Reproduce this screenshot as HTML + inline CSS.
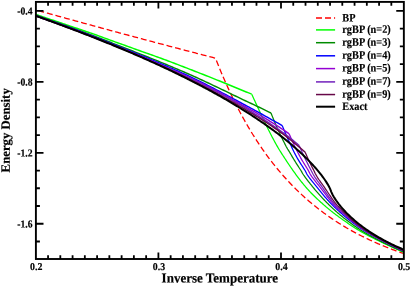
<!DOCTYPE html><html><head><meta charset="utf-8"><style>
html,body{margin:0;padding:0;background:#fff}#w{will-change:transform;position:relative;width:411px;height:286px;overflow:hidden;background:#fff}
</style></head><body><div id="w">
<svg width="411" height="286" viewBox="0 0 411 286" style="position:absolute;left:0;top:0">
<defs><clipPath id="c"><rect x="35.9" y="1.9" width="367.95000000000005" height="257.1"/></clipPath></defs>
<g clip-path="url(#c)" fill="none" stroke-linejoin="round">
<path d="M35.80,9.94 L36.96,10.26 L38.11,10.58 L39.27,10.90 L40.43,11.22 L41.58,11.55 L42.74,11.87 L43.90,12.19 L45.05,12.51 L46.21,12.83 L47.37,13.15 L48.52,13.47 L49.68,13.79 L50.84,14.11 L51.99,14.43 L53.15,14.75 L54.31,15.07 L55.46,15.39 L56.62,15.71 L57.78,16.03 L58.93,16.35 L60.09,16.67 L61.25,16.99 L62.40,17.30 L63.56,17.62 L64.72,17.94 L65.87,18.26 L67.03,18.58 L68.18,18.90 L69.34,19.22 L70.50,19.53 L71.65,19.85 L72.81,20.17 L73.97,20.49 L75.12,20.80 L76.28,21.12 L77.44,21.44 L78.59,21.75 L79.75,22.07 L80.91,22.39 L82.06,22.70 L83.22,23.02 L84.38,23.34 L85.53,23.65 L86.69,23.97 L87.85,24.29 L89.00,24.60 L90.16,24.92 L91.32,25.23 L92.47,25.55 L93.63,25.86 L94.79,26.18 L95.94,26.49 L97.10,26.81 L98.26,27.12 L99.41,27.44 L100.57,27.75 L101.73,28.06 L102.88,28.38 L104.04,28.69 L105.20,29.01 L106.35,29.32 L107.51,29.63 L108.67,29.95 L109.82,30.26 L110.98,30.57 L112.14,30.88 L113.29,31.20 L114.45,31.51 L115.61,31.82 L116.76,32.13 L117.92,32.45 L119.08,32.76 L120.23,33.07 L121.39,33.38 L122.55,33.69 L123.70,34.00 L124.86,34.32 L126.02,34.63 L127.17,34.94 L128.33,35.25 L129.48,35.56 L130.64,35.87 L131.80,36.18 L132.95,36.49 L134.11,36.80 L135.27,37.11 L136.42,37.42 L137.58,37.73 L138.74,38.04 L139.89,38.35 L141.05,38.65 L142.21,38.96 L143.36,39.27 L144.52,39.58 L145.68,39.89 L146.83,40.20 L147.99,40.50 L149.15,40.81 L150.30,41.12 L151.46,41.43 L152.62,41.73 L153.77,42.04 L154.93,42.35 L156.09,42.65 L157.24,42.96 L158.40,43.27 L159.56,43.57 L160.71,43.88 L161.87,44.19 L163.03,44.49 L164.18,44.80 L165.34,45.10 L166.50,45.41 L167.65,45.71 L168.81,46.02 L169.97,46.32 L171.12,46.63 L172.28,46.93 L173.44,47.24 L174.59,47.54 L175.75,47.84 L176.91,48.15 L178.06,48.45 L179.22,48.75 L180.38,49.06 L181.53,49.36 L182.69,49.66 L183.85,49.97 L185.00,50.27 L186.16,50.57 L187.32,50.87 L188.47,51.17 L189.63,51.48 L190.78,51.78 L191.94,52.08 L193.10,52.38 L194.25,52.68 L195.41,52.98 L196.57,53.28 L197.72,53.58 L198.88,53.88 L200.04,54.18 L201.19,54.48 L202.35,54.78 L203.51,55.08 L204.66,55.38 L205.82,55.68 L206.98,55.98 L208.13,56.28 L209.29,56.58 L210.45,56.88 L211.60,57.17 L212.76,57.47 L213.92,57.77 L215.07,58.07 L215.38,58.15 L215.50,58.18 L215.62,58.49 L216.23,60.05 L217.39,62.97 L218.54,65.85 L219.70,68.69" stroke="#ff0000" stroke-width="1.3" stroke-dasharray="5.9 2.95" stroke-dashoffset="6.15" stroke-linejoin="miter"/>
<path d="M219.70,68.69 L220.62,70.92 L221.55,73.13 L222.47,75.32 L223.40,77.47 L224.32,79.60 L225.24,81.71 L226.17,83.79 L227.09,85.84 L228.02,87.88 L228.94,89.88 L229.87,91.87 L230.79,93.83 L231.71,95.77 L232.64,97.68 L233.56,99.58 L234.49,101.45 L235.41,103.30 L236.33,105.13 L237.26,106.94 L238.18,108.72 L239.11,110.49 L240.03,112.24 L240.95,113.97 L241.88,115.67 L242.80,117.36 L243.73,119.03 L244.65,120.68 L245.58,122.31 L246.50,123.93 L247.42,125.52 L248.35,127.10 L249.27,128.66 L250.20,130.20 L251.12,131.73 L252.04,133.24 L252.97,134.73 L253.89,136.21 L254.82,137.67 L255.74,139.11 L256.66,140.54 L257.59,141.95 L258.51,143.35 L259.44,144.73 L260.36,146.10 L261.29,147.46 L262.21,148.79 L263.13,150.12 L264.06,151.43 L264.98,152.72 L265.91,154.01 L266.83,155.27 L267.75,156.53 L268.68,157.77 L269.60,159.00 L270.53,160.21 L271.45,161.42 L272.37,162.61 L273.30,163.79 L274.22,164.95 L275.15,166.10 L276.07,167.24 L277.00,168.37 L277.92,169.49 L278.84,170.60 L279.77,171.69 L280.69,172.78 L281.62,173.85 L282.54,174.91 L283.46,175.96 L284.39,177.00 L285.31,178.03 L286.24,179.05 L287.16,180.06 L288.08,181.05 L289.01,182.04 L289.93,183.02 L290.86,183.99 L291.78,184.95 L292.71,185.89 L293.63,186.83 L294.55,187.76 L295.48,188.68 L296.40,189.59 L297.33,190.50 L298.25,191.39 L299.17,192.27 L300.10,193.15 L301.02,194.02 L301.95,194.88 L302.87,195.73 L303.79,196.57 L304.72,197.40 L305.64,198.23 L306.57,199.04 L307.49,199.85 L308.42,200.65 L309.34,201.45 L310.26,202.23 L311.19,203.01 L312.11,203.78 L313.04,204.55 L313.96,205.30 L314.88,206.05 L315.81,206.79 L316.73,207.53 L317.66,208.25 L318.58,208.97 L319.51,209.69 L320.43,210.39 L321.35,211.09 L322.28,211.79 L323.20,212.47 L324.13,213.15 L325.05,213.83 L325.97,214.49 L326.90,215.16 L327.82,215.81 L328.75,216.46 L329.67,217.10 L330.59,217.74 L331.52,218.37 L332.44,218.99 L333.37,219.61 L334.29,220.23 L335.22,220.83 L336.14,221.44 L337.06,222.03 L337.99,222.62 L338.91,223.21 L339.84,223.79 L340.76,224.36 L341.68,224.93 L342.61,225.50 L343.53,226.06 L344.46,226.61 L345.38,227.16 L346.30,227.70 L347.23,228.24 L348.15,228.77 L349.08,229.30 L350.00,229.83 L350.93,230.35 L351.85,230.86 L352.77,231.37 L353.70,231.88 L354.62,232.38 L355.55,232.88 L356.47,233.37 L357.39,233.86 L358.32,234.34 L359.24,234.82 L360.17,235.29 L361.09,235.76 L362.01,236.23 L362.94,236.69 L363.86,237.15 L364.79,237.60 L365.71,238.05 L366.64,238.50 L367.56,238.94 L368.48,239.38 L369.41,239.81 L370.33,240.24 L371.26,240.67 L372.18,241.09 L373.10,241.51 L374.03,241.93 L374.95,242.34 L375.88,242.75 L376.80,243.15 L377.72,243.56 L378.65,243.95 L379.57,244.35 L380.50,244.74 L381.42,245.13 L382.35,245.51 L383.27,245.89 L384.19,246.27 L385.12,246.64 L386.04,247.01 L386.97,247.38 L387.89,247.75 L388.81,248.11 L389.74,248.47 L390.66,248.82 L391.59,249.17 L392.51,249.52 L393.43,249.87 L394.36,250.21 L395.28,250.55 L396.21,250.89 L397.13,251.23 L398.06,251.56 L398.98,251.89 L399.90,252.21 L400.83,252.54 L401.75,252.86 L402.68,253.18 L403.60,253.49" stroke="#ff0000" stroke-width="1.3" stroke-dasharray="5.9 2.95"/>
<path d="M35.80,14.38 L37.61,15.00 L39.43,15.62 L41.24,16.24 L43.06,16.86 L44.87,17.48 L46.69,18.09 L48.50,18.71 L50.31,19.32 L52.13,19.94 L53.94,20.55 L55.76,21.16 L57.57,21.78 L59.39,22.39 L61.20,23.00 L63.01,23.62 L64.83,24.23 L66.64,24.85 L68.46,25.46 L70.27,26.08 L72.09,26.70 L73.90,27.32 L75.71,27.94 L77.53,28.56 L79.34,29.19 L81.16,29.81 L82.97,30.42 L84.79,31.03 L86.60,31.63 L88.41,32.23 L90.23,32.85 L92.04,33.47 L93.86,34.12 L95.67,34.76 L97.49,35.42 L99.30,36.09 L101.11,36.75 L102.93,37.42 L104.74,38.10 L106.56,38.77 L108.37,39.44 L110.19,40.11 L112.00,40.77 L113.81,41.43 L115.63,42.08 L117.44,42.73 L119.26,43.38 L121.07,44.02 L122.89,44.66 L124.70,45.30 L126.51,45.95 L128.33,46.60 L130.14,47.25 L131.96,47.91 L133.77,48.57 L135.59,49.23 L137.40,49.89 L139.21,50.54 L141.03,51.20 L142.84,51.84 L144.66,52.48 L146.47,53.12 L148.29,53.76 L150.10,54.40 L151.91,55.04 L153.73,55.68 L155.54,56.32 L157.36,56.97 L159.17,57.63 L160.99,58.29 L162.80,58.95 L164.61,59.62 L166.43,60.30 L168.24,60.97 L170.06,61.66 L171.87,62.34 L173.69,63.03 L175.50,63.73 L177.31,64.42 L179.13,65.12 L180.94,65.82 L182.76,66.52 L184.57,67.22 L186.39,67.93 L188.20,68.63 L190.01,69.34 L191.83,70.04 L193.64,70.75 L195.46,71.46 L197.27,72.16 L199.09,72.87 L200.90,73.58 L202.71,74.29 L204.53,75.00 L206.34,75.72 L208.16,76.43 L209.97,77.15 L211.79,77.88 L213.60,78.60 L215.41,79.33 L217.23,80.06 L219.04,80.79 L220.86,81.53 L222.67,82.27 L224.49,83.02 L226.30,83.76 L228.11,84.51 L229.93,85.26 L231.74,86.01 L233.56,86.76 L235.37,87.51 L237.19,88.27 L239.00,89.02 L240.81,89.77 L242.63,90.51 L244.44,91.24 L246.26,91.97 L248.07,92.69 L249.89,93.41 L251.70,94.14" stroke="#00ff00" stroke-width="1.45"/>
<path d="M251.70,94.14 L252.46,95.81 L253.22,97.49 L253.99,99.15 L254.75,100.82 L255.51,102.48 L256.27,104.13 L257.03,105.78 L257.80,107.42 L258.56,109.05 L259.32,110.68 L260.08,112.30 L260.84,113.92 L261.61,115.53 L262.37,117.15 L263.13,118.77 L263.89,120.38 L264.65,121.97 L265.42,123.56 L266.18,125.13 L266.94,126.67 L267.70,128.21 L268.46,129.74 L269.23,131.25 L269.99,132.76 L270.75,134.25 L271.51,135.72 L272.27,137.18 L273.04,138.63 L273.80,140.06 L274.56,141.47 L275.32,142.86 L276.08,144.23 L276.85,145.58 L277.61,146.90 L278.37,148.20 L279.13,149.47 L279.89,150.72 L280.66,151.95 L281.42,153.15 L282.18,154.35 L282.94,155.52 L283.70,156.69 L284.47,157.86 L285.23,159.01 L285.99,160.17 L286.75,161.32 L287.51,162.48 L288.28,163.63 L289.04,164.77 L289.80,165.89 L290.56,167.01 L291.33,168.11 L292.09,169.21 L292.85,170.29 L293.61,171.37 L294.37,172.43 L295.14,173.48 L295.90,174.52 L296.66,175.54 L297.42,176.56 L298.18,177.58 L298.95,178.58 L299.71,179.58 L300.47,180.56 L301.23,181.54 L301.99,182.50 L302.76,183.45 L303.52,184.39 L304.28,185.31 L305.04,186.22 L305.80,187.11 L306.57,187.98 L307.33,188.84 L308.09,189.69 L308.85,190.52 L309.61,191.34 L310.38,192.15 L311.14,192.95 L311.90,193.73 L312.66,194.50 L313.42,195.26 L314.19,196.01 L314.95,196.75 L315.71,197.49 L316.47,198.21 L317.23,198.93 L318.00,199.64 L318.76,200.34 L319.52,201.04 L320.28,201.73 L321.04,202.41 L321.81,203.09 L322.57,203.77 L323.33,204.44 L324.09,205.11 L324.85,205.78 L325.62,206.44 L326.38,207.10 L327.14,207.74 L327.90,208.38 L328.66,209.01 L329.43,209.64 L330.19,210.26 L330.95,210.87 L331.71,211.48 L332.47,212.08 L333.24,212.67 L334.00,213.26 L334.76,213.84 L335.52,214.42 L336.28,214.99 L337.05,215.56 L337.81,216.12 L338.57,216.67 L339.33,217.22 L340.09,217.76 L340.86,218.31 L341.62,218.85 L342.38,219.39 L343.14,219.92 L343.90,220.46 L344.67,221.00 L345.43,221.53 L346.19,222.06 L346.95,222.59 L347.71,223.11 L348.48,223.64 L349.24,224.16 L350.00,224.67 L350.76,225.18 L351.52,225.69 L352.29,226.20 L353.05,226.70 L353.81,227.19 L354.57,227.69 L355.33,228.17 L356.10,228.65 L356.86,229.13 L357.62,229.60 L358.38,230.06 L359.14,230.52 L359.91,230.97 L360.67,231.41 L361.43,231.85 L362.19,232.28 L362.95,232.71 L363.72,233.13 L364.48,233.55 L365.24,233.96 L366.00,234.37 L366.77,234.78 L367.53,235.18 L368.29,235.58 L369.05,235.98 L369.81,236.37 L370.58,236.77 L371.34,237.16 L372.10,237.54 L372.86,237.93 L373.62,238.31 L374.39,238.69 L375.15,239.07 L375.91,239.44 L376.67,239.82 L377.43,240.19 L378.20,240.56 L378.96,240.93 L379.72,241.30 L380.48,241.66 L381.24,242.03 L382.01,242.39 L382.77,242.75 L383.53,243.12 L384.29,243.48 L385.05,243.84 L385.82,244.20 L386.58,244.55 L387.34,244.91 L388.10,245.26 L388.86,245.62 L389.63,245.97 L390.39,246.32 L391.15,246.67 L391.91,247.02 L392.67,247.37 L393.44,247.72 L394.20,248.06 L394.96,248.41 L395.72,248.76 L396.48,249.10 L397.25,249.44 L398.01,249.78 L398.77,250.13 L399.53,250.47 L400.29,250.81 L401.06,251.15 L401.82,251.48 L402.58,251.82 L403.34,252.16" stroke="#00ff00" stroke-width="1.25" stroke-linejoin="miter"/>
<path d="M35.80,15.28 L37.78,15.95 L39.75,16.62 L41.73,17.29 L43.71,17.96 L45.68,18.64 L47.66,19.32 L49.64,20.00 L51.61,20.69 L53.59,21.37 L55.56,22.06 L57.54,22.76 L59.52,23.45 L61.49,24.15 L63.47,24.85 L65.45,25.55 L67.42,26.26 L69.40,26.96 L71.38,27.68 L73.35,28.39 L75.33,29.11 L77.31,29.83 L79.28,30.55 L81.26,31.27 L83.24,32.00 L85.21,32.74 L87.19,33.48 L89.16,34.22 L91.14,34.96 L93.12,35.71 L95.09,36.46 L97.07,37.21 L99.05,37.97 L101.02,38.73 L103.00,39.49 L104.98,40.25 L106.95,41.01 L108.93,41.78 L110.91,42.55 L112.88,43.32 L114.86,44.08 L116.84,44.85 L118.81,45.62 L120.79,46.39 L122.76,47.17 L124.74,47.94 L126.72,48.71 L128.69,49.49 L130.67,50.26 L132.65,51.04 L134.62,51.82 L136.60,52.59 L138.58,53.37 L140.55,54.15 L142.53,54.93 L144.51,55.71 L146.48,56.49 L148.46,57.27 L150.44,58.06 L152.41,58.85 L154.39,59.65 L156.36,60.44 L158.34,61.25 L160.32,62.06 L162.29,62.87 L164.27,63.68 L166.25,64.50 L168.22,65.32 L170.20,66.14 L172.18,66.97 L174.15,67.80 L176.13,68.63 L178.11,69.47 L180.08,70.32 L182.06,71.17 L184.04,72.02 L186.01,72.88 L187.99,73.75 L189.96,74.62 L191.94,75.50 L193.92,76.38 L195.89,77.28 L197.87,78.17 L199.85,79.08 L201.82,79.99 L203.80,80.91 L205.78,81.83 L207.75,82.75 L209.73,83.68 L211.71,84.61 L213.68,85.54 L215.66,86.47 L217.64,87.41 L219.61,88.35 L221.59,89.30 L223.56,90.25 L225.54,91.20 L227.52,92.16 L229.49,93.12 L231.47,94.08 L233.45,95.04 L235.42,96.00 L237.40,96.97 L239.38,97.93 L241.35,98.89 L243.33,99.83 L245.31,100.76 L247.28,101.68 L249.26,102.59 L251.24,103.52 L253.21,104.45 L255.19,105.38 L257.16,106.32 L259.14,107.26 L261.12,108.21 L263.09,109.16 L265.07,110.11 L267.05,111.07 L269.02,112.03 L271.00,113.00" stroke="#008b00" stroke-width="1.45"/>
<path d="M271.00,113.00 L271.67,114.69 L272.33,116.36 L273.00,118.01 L273.66,119.64 L274.33,121.24 L274.99,122.82 L275.66,124.38 L276.32,125.91 L276.99,127.42 L277.65,128.90 L278.32,130.37 L278.98,131.82 L279.65,133.26 L280.32,134.67 L280.98,136.07 L281.65,137.46 L282.31,138.83 L282.98,140.18 L283.64,141.51 L284.31,142.83 L284.97,144.13 L285.64,145.42 L286.30,146.69 L286.97,147.90 L287.63,149.02 L288.30,150.10 L288.96,151.18 L289.63,152.27 L290.30,153.41 L290.96,154.56 L291.63,155.69 L292.29,156.81 L292.96,157.93 L293.62,159.03 L294.29,160.12 L294.95,161.20 L295.62,162.27 L296.28,163.33 L296.95,164.38 L297.61,165.43 L298.28,166.46 L298.95,167.48 L299.61,168.50 L300.28,169.51 L300.94,170.51 L301.61,171.63 L302.27,172.83 L302.94,173.98 L303.60,174.99 L304.27,175.93 L304.93,176.85 L305.60,177.76 L306.26,178.66 L306.93,179.54 L307.59,180.42 L308.26,181.28 L308.93,182.13 L309.59,182.97 L310.26,183.81 L310.92,184.64 L311.59,185.47 L312.25,186.29 L312.92,187.11 L313.58,187.92 L314.25,188.73 L314.91,189.54 L315.58,190.33 L316.24,191.12 L316.91,191.90 L317.58,192.67 L318.24,193.43 L318.91,194.19 L319.57,194.94 L320.24,195.69 L320.90,196.42 L321.57,197.15 L322.23,197.87 L322.90,198.59 L323.56,199.29 L324.23,199.99 L324.89,200.69 L325.56,201.38 L326.22,202.06 L326.89,202.73 L327.56,203.40 L328.22,204.06 L328.89,204.71 L329.55,205.36 L330.22,206.00 L330.88,206.64 L331.55,207.27 L332.21,207.89 L332.88,208.51 L333.54,209.12 L334.21,209.73 L334.87,210.33 L335.54,210.92 L336.21,211.51 L336.87,212.10 L337.54,212.68 L338.20,213.25 L338.87,213.82 L339.53,214.38 L340.20,214.94 L340.86,215.50 L341.53,216.05 L342.19,216.59 L342.86,217.13 L343.52,217.67 L344.19,218.20 L344.85,218.73 L345.52,219.25 L346.19,219.77 L346.85,220.28 L347.52,220.79 L348.18,221.30 L348.85,221.80 L349.51,222.30 L350.18,222.79 L350.84,223.28 L351.51,223.76 L352.17,224.24 L352.84,224.72 L353.50,225.19 L354.17,225.66 L354.84,226.12 L355.50,226.58 L356.17,227.04 L356.83,227.49 L357.50,227.94 L358.16,228.38 L358.83,228.82 L359.49,229.26 L360.16,229.69 L360.82,230.12 L361.49,230.54 L362.15,230.96 L362.82,231.37 L363.48,231.78 L364.15,232.19 L364.82,232.59 L365.48,232.99 L366.15,233.38 L366.81,233.77 L367.48,234.16 L368.14,234.54 L368.81,234.92 L369.47,235.29 L370.14,235.66 L370.80,236.03 L371.47,236.39 L372.13,236.75 L372.80,237.11 L373.47,237.47 L374.13,237.82 L374.80,238.18 L375.46,238.52 L376.13,238.87 L376.79,239.22 L377.46,239.56 L378.12,239.90 L378.79,240.24 L379.45,240.58 L380.12,240.91 L380.78,241.25 L381.45,241.58 L382.11,241.91 L382.78,242.25 L383.45,242.58 L384.11,242.91 L384.78,243.24 L385.44,243.56 L386.11,243.89 L386.77,244.21 L387.44,244.53 L388.10,244.85 L388.77,245.17 L389.43,245.48 L390.10,245.79 L390.76,246.11 L391.43,246.42 L392.10,246.72 L392.76,247.03 L393.43,247.33 L394.09,247.64 L394.76,247.94 L395.42,248.24 L396.09,248.54 L396.75,248.83 L397.42,249.13 L398.08,249.42 L398.75,249.72 L399.41,250.01 L400.08,250.30 L400.74,250.58 L401.41,250.87 L402.08,251.16 L402.74,251.44 L403.41,251.73" stroke="#008b00" stroke-width="1.25" stroke-linejoin="miter"/>
<path d="M35.80,15.58 L37.87,16.28 L39.94,16.99 L42.01,17.71 L44.08,18.42 L46.15,19.14 L48.22,19.86 L50.29,20.59 L52.36,21.31 L54.44,22.04 L56.51,22.78 L58.58,23.51 L60.65,24.25 L62.72,24.99 L64.79,25.74 L66.86,26.49 L68.93,27.24 L71.00,27.99 L73.07,28.75 L75.14,29.51 L77.21,30.28 L79.28,31.04 L81.35,31.82 L83.42,32.59 L85.49,33.37 L87.56,34.16 L89.64,34.95 L91.71,35.74 L93.78,36.53 L95.85,37.33 L97.92,38.14 L99.99,38.94 L102.06,39.75 L104.13,40.56 L106.20,41.38 L108.27,42.19 L110.34,43.01 L112.41,43.84 L114.48,44.66 L116.55,45.49 L118.62,46.31 L120.69,47.14 L122.76,47.97 L124.84,48.81 L126.91,49.65 L128.98,50.48 L131.05,51.33 L133.12,52.17 L135.19,53.01 L137.26,53.86 L139.33,54.70 L141.40,55.55 L143.47,56.40 L145.54,57.26 L147.61,58.11 L149.68,58.97 L151.75,59.84 L153.82,60.71 L155.89,61.58 L157.96,62.46 L160.04,63.34 L162.11,64.23 L164.18,65.12 L166.25,66.01 L168.32,66.90 L170.39,67.80 L172.46,68.70 L174.53,69.61 L176.60,70.53 L178.67,71.45 L180.74,72.37 L182.81,73.31 L184.88,74.25 L186.95,75.21 L189.02,76.17 L191.09,77.15 L193.16,78.14 L195.24,79.14 L197.31,80.14 L199.38,81.16 L201.45,82.19 L203.52,83.22 L205.59,84.26 L207.66,85.31 L209.73,86.36 L211.80,87.42 L213.87,88.48 L215.94,89.55 L218.01,90.62 L220.08,91.69 L222.15,92.78 L224.22,93.86 L226.29,94.96 L228.36,96.06 L230.44,97.16 L232.51,98.27 L234.58,99.39 L236.65,100.51 L238.72,101.63 L240.79,102.76 L242.86,103.88 L244.93,105.00 L247.00,106.11 L249.07,107.22 L251.14,108.33 L253.21,109.46 L255.28,110.59 L257.35,111.72 L259.42,112.85 L261.49,114.00 L263.56,115.14 L265.64,116.29 L267.71,117.45 L269.78,118.61 L271.85,119.78 L273.92,120.94 L275.99,122.09 L278.06,123.24 L280.13,124.40 L282.20,125.57" stroke="#0000ff" stroke-width="1.45"/>
<path d="M282.20,125.57 L282.81,127.06 L283.42,128.54 L284.03,130.00 L284.64,131.44 L285.25,132.87 L285.86,134.28 L286.46,135.68 L287.07,137.06 L287.68,138.42 L288.29,139.77 L288.90,141.11 L289.51,142.43 L290.12,143.73 L290.73,145.03 L291.34,146.33 L291.95,147.63 L292.56,148.92 L293.17,150.20 L293.78,151.45 L294.39,152.68 L294.99,153.88 L295.60,155.04 L296.21,156.16 L296.82,157.26 L297.43,158.32 L298.04,159.36 L298.65,160.38 L299.26,161.38 L299.87,162.37 L300.48,163.34 L301.09,164.30 L301.70,165.25 L302.31,166.20 L302.92,167.15 L303.52,168.09 L304.13,169.04 L304.74,170.00 L305.35,171.05 L305.96,172.31 L306.57,173.56 L307.18,174.62 L307.79,175.52 L308.40,176.40 L309.01,177.25 L309.62,178.07 L310.23,178.88 L310.84,179.66 L311.44,180.43 L312.05,181.19 L312.66,181.94 L313.27,182.67 L313.88,183.41 L314.49,184.14 L315.10,184.87 L315.71,185.60 L316.32,186.34 L316.93,187.09 L317.54,187.85 L318.15,188.62 L318.76,189.38 L319.37,190.14 L319.97,190.90 L320.58,191.65 L321.19,192.40 L321.80,193.14 L322.41,193.88 L323.02,194.61 L323.63,195.34 L324.24,196.06 L324.85,196.78 L325.46,197.49 L326.07,198.19 L326.68,198.89 L327.29,199.58 L327.89,200.26 L328.50,200.93 L329.11,201.60 L329.72,202.26 L330.33,202.90 L330.94,203.54 L331.55,204.17 L332.16,204.79 L332.77,205.40 L333.38,206.00 L333.99,206.60 L334.60,207.19 L335.21,207.77 L335.82,208.35 L336.42,208.92 L337.03,209.49 L337.64,210.05 L338.25,210.61 L338.86,211.16 L339.47,211.71 L340.08,212.25 L340.69,212.79 L341.30,213.33 L341.91,213.86 L342.52,214.39 L343.13,214.91 L343.74,215.43 L344.35,215.94 L344.95,216.46 L345.56,216.96 L346.17,217.47 L346.78,217.97 L347.39,218.46 L348.00,218.95 L348.61,219.44 L349.22,219.92 L349.83,220.40 L350.44,220.88 L351.05,221.35 L351.66,221.82 L352.27,222.28 L352.87,222.74 L353.48,223.20 L354.09,223.65 L354.70,224.10 L355.31,224.55 L355.92,224.99 L356.53,225.42 L357.14,225.86 L357.75,226.29 L358.36,226.71 L358.97,227.13 L359.58,227.55 L360.19,227.97 L360.80,228.38 L361.40,228.78 L362.01,229.18 L362.62,229.58 L363.23,229.97 L363.84,230.36 L364.45,230.75 L365.06,231.13 L365.67,231.50 L366.28,231.88 L366.89,232.25 L367.50,232.61 L368.11,232.97 L368.72,233.33 L369.32,233.69 L369.93,234.04 L370.54,234.39 L371.15,234.74 L371.76,235.08 L372.37,235.42 L372.98,235.76 L373.59,236.10 L374.20,236.43 L374.81,236.77 L375.42,237.10 L376.03,237.43 L376.64,237.75 L377.25,238.08 L377.85,238.41 L378.46,238.73 L379.07,239.05 L379.68,239.37 L380.29,239.70 L380.90,240.02 L381.51,240.34 L382.12,240.65 L382.73,240.97 L383.34,241.29 L383.95,241.61 L384.56,241.93 L385.17,242.25 L385.78,242.56 L386.38,242.87 L386.99,243.18 L387.60,243.49 L388.21,243.80 L388.82,244.11 L389.43,244.41 L390.04,244.72 L390.65,245.02 L391.26,245.32 L391.87,245.62 L392.48,245.92 L393.09,246.21 L393.70,246.51 L394.30,246.80 L394.91,247.10 L395.52,247.39 L396.13,247.68 L396.74,247.97 L397.35,248.25 L397.96,248.54 L398.57,248.82 L399.18,249.11 L399.79,249.39 L400.40,249.67 L401.01,249.95 L401.62,250.23 L402.23,250.51 L402.83,250.79 L403.44,251.06" stroke="#0000ff" stroke-width="1.25" stroke-linejoin="miter"/>
<path d="M35.80,15.78 L37.93,16.53 L40.06,17.28 L42.19,18.03 L44.32,18.79 L46.45,19.55 L48.58,20.32 L50.71,21.08 L52.84,21.85 L54.96,22.62 L57.09,23.39 L59.22,24.17 L61.35,24.95 L63.48,25.73 L65.61,26.52 L67.74,27.31 L69.87,28.10 L72.00,28.90 L74.13,29.69 L76.26,30.50 L78.39,31.30 L80.52,32.11 L82.65,32.92 L84.78,33.74 L86.91,34.56 L89.04,35.38 L91.16,36.21 L93.29,37.04 L95.42,37.87 L97.55,38.71 L99.68,39.55 L101.81,40.39 L103.94,41.24 L106.07,42.09 L108.20,42.94 L110.33,43.80 L112.46,44.66 L114.59,45.51 L116.72,46.37 L118.85,47.22 L120.98,48.06 L123.11,48.92 L125.24,49.77 L127.36,50.63 L129.49,51.49 L131.62,52.37 L133.75,53.24 L135.88,54.13 L138.01,55.02 L140.14,55.91 L142.27,56.81 L144.40,57.71 L146.53,58.62 L148.66,59.53 L150.79,60.44 L152.92,61.36 L155.05,62.28 L157.18,63.20 L159.31,64.12 L161.44,65.05 L163.56,65.98 L165.69,66.90 L167.82,67.82 L169.95,68.75 L172.08,69.68 L174.21,70.61 L176.34,71.55 L178.47,72.49 L180.60,73.44 L182.73,74.39 L184.86,75.36 L186.99,76.33 L189.12,77.32 L191.25,78.32 L193.38,79.33 L195.51,80.34 L197.64,81.37 L199.76,82.40 L201.89,83.45 L204.02,84.50 L206.15,85.56 L208.28,86.63 L210.41,87.71 L212.54,88.79 L214.67,89.89 L216.80,91.00 L218.93,92.12 L221.06,93.25 L223.19,94.40 L225.32,95.56 L227.45,96.72 L229.58,97.90 L231.71,99.08 L233.84,100.27 L235.96,101.46 L238.09,102.66 L240.22,103.86 L242.35,105.05 L244.48,106.22 L246.61,107.39 L248.74,108.57 L250.87,109.76 L253.00,110.98 L255.13,112.22 L257.26,113.48 L259.39,114.75 L261.52,116.03 L263.65,117.33 L265.78,118.64 L267.91,119.97 L270.04,121.30 L272.16,122.64 L274.29,123.97 L276.42,125.32 L278.55,126.67 L280.68,128.06 L282.81,129.48 L284.94,130.93 L287.07,132.41 L289.20,133.93" stroke="#9400d3" stroke-width="1.45"/>
<path d="M289.20,133.93 L289.77,135.28 L290.35,136.61 L290.92,137.93 L291.50,139.23 L292.07,140.51 L292.65,141.77 L293.22,143.02 L293.79,144.25 L294.37,145.46 L294.94,146.66 L295.52,147.85 L296.09,149.02 L296.66,150.17 L297.24,151.31 L297.81,152.44 L298.39,153.56 L298.96,154.66 L299.54,155.74 L300.11,156.79 L300.68,157.83 L301.26,158.84 L301.83,159.83 L302.41,160.81 L302.98,161.77 L303.56,162.72 L304.13,163.66 L304.70,164.59 L305.28,165.52 L305.85,166.44 L306.43,167.36 L307.00,168.28 L307.57,169.21 L308.15,170.13 L308.72,171.17 L309.30,172.37 L309.87,173.55 L310.45,174.57 L311.02,175.45 L311.59,176.30 L312.17,177.12 L312.74,177.92 L313.32,178.70 L313.89,179.46 L314.47,180.21 L315.04,180.94 L315.61,181.66 L316.19,182.38 L316.76,183.08 L317.34,183.79 L317.91,184.50 L318.48,185.21 L319.06,185.92 L319.63,186.65 L320.21,187.38 L320.78,188.13 L321.36,188.88 L321.93,189.64 L322.50,190.41 L323.08,191.17 L323.65,191.94 L324.23,192.70 L324.80,193.47 L325.38,194.23 L325.95,194.99 L326.52,195.75 L327.10,196.50 L327.67,197.25 L328.25,197.98 L328.82,198.71 L329.39,199.44 L329.97,200.15 L330.54,200.85 L331.12,201.54 L331.69,202.21 L332.27,202.88 L332.84,203.52 L333.41,204.16 L333.99,204.77 L334.56,205.37 L335.14,205.95 L335.71,206.52 L336.28,207.08 L336.86,207.64 L337.43,208.19 L338.01,208.73 L338.58,209.27 L339.16,209.81 L339.73,210.36 L340.30,210.91 L340.88,211.45 L341.45,211.99 L342.03,212.52 L342.60,213.06 L343.18,213.58 L343.75,214.10 L344.32,214.62 L344.90,215.13 L345.47,215.64 L346.05,216.14 L346.62,216.64 L347.19,217.13 L347.77,217.62 L348.34,218.11 L348.92,218.59 L349.49,219.07 L350.07,219.54 L350.64,220.01 L351.21,220.48 L351.79,220.94 L352.36,221.40 L352.94,221.85 L353.51,222.30 L354.09,222.75 L354.66,223.19 L355.23,223.63 L355.81,224.06 L356.38,224.49 L356.96,224.92 L357.53,225.35 L358.10,225.77 L358.68,226.18 L359.25,226.60 L359.83,227.01 L360.40,227.41 L360.98,227.82 L361.55,228.22 L362.12,228.61 L362.70,229.01 L363.27,229.40 L363.85,229.78 L364.42,230.16 L365.00,230.53 L365.57,230.91 L366.14,231.27 L366.72,231.64 L367.29,232.00 L367.87,232.36 L368.44,232.71 L369.01,233.06 L369.59,233.41 L370.16,233.75 L370.74,234.09 L371.31,234.43 L371.89,234.77 L372.46,235.10 L373.03,235.43 L373.61,235.76 L374.18,236.08 L374.76,236.40 L375.33,236.72 L375.91,237.04 L376.48,237.36 L377.05,237.67 L377.63,237.98 L378.20,238.30 L378.78,238.60 L379.35,238.91 L379.92,239.22 L380.50,239.52 L381.07,239.82 L381.65,240.13 L382.22,240.43 L382.80,240.73 L383.37,241.02 L383.94,241.32 L384.52,241.62 L385.09,241.91 L385.67,242.21 L386.24,242.50 L386.82,242.79 L387.39,243.08 L387.96,243.37 L388.54,243.65 L389.11,243.94 L389.69,244.22 L390.26,244.50 L390.83,244.79 L391.41,245.07 L391.98,245.34 L392.56,245.62 L393.13,245.90 L393.71,246.17 L394.28,246.45 L394.85,246.72 L395.43,246.99 L396.00,247.26 L396.58,247.53 L397.15,247.80 L397.73,248.06 L398.30,248.33 L398.87,248.59 L399.45,248.86 L400.02,249.12 L400.60,249.38 L401.17,249.64 L401.74,249.90 L402.32,250.16 L402.89,250.42 L403.47,250.67" stroke="#9400d3" stroke-width="1.25" stroke-linejoin="miter"/>
<path d="M35.80,15.88 L38.01,16.66 L40.23,17.44 L42.44,18.22 L44.65,19.01 L46.86,19.80 L49.08,20.59 L51.29,21.39 L53.50,22.19 L55.71,22.99 L57.93,23.80 L60.14,24.61 L62.35,25.42 L64.56,26.23 L66.78,27.05 L68.99,27.87 L71.20,28.70 L73.41,29.53 L75.63,30.36 L77.84,31.19 L80.05,32.03 L82.26,32.87 L84.48,33.72 L86.69,34.57 L88.90,35.43 L91.12,36.29 L93.33,37.15 L95.54,38.01 L97.75,38.88 L99.97,39.76 L102.18,40.63 L104.39,41.52 L106.60,42.40 L108.82,43.29 L111.03,44.18 L113.24,45.07 L115.45,45.97 L117.67,46.86 L119.88,47.76 L122.09,48.66 L124.30,49.56 L126.52,50.46 L128.73,51.37 L130.94,52.29 L133.15,53.22 L135.37,54.15 L137.58,55.08 L139.79,56.02 L142.01,56.97 L144.22,57.92 L146.43,58.87 L148.64,59.83 L150.86,60.80 L153.07,61.77 L155.28,62.74 L157.49,63.72 L159.71,64.70 L161.92,65.68 L164.13,66.66 L166.34,67.64 L168.56,68.62 L170.77,69.61 L172.98,70.60 L175.19,71.59 L177.41,72.59 L179.62,73.60 L181.83,74.61 L184.04,75.63 L186.26,76.66 L188.47,77.70 L190.68,78.76 L192.89,79.82 L195.11,80.90 L197.32,81.98 L199.53,83.07 L201.75,84.18 L203.96,85.29 L206.17,86.41 L208.38,87.53 L210.60,88.67 L212.81,89.82 L215.02,90.97 L217.23,92.14 L219.45,93.31 L221.66,94.49 L223.87,95.68 L226.08,96.88 L228.30,98.09 L230.51,99.31 L232.72,100.55 L234.93,101.80 L237.15,103.07 L239.36,104.36 L241.57,105.66 L243.78,106.99 L246.00,108.33 L248.21,109.68 L250.42,111.05 L252.64,112.42 L254.85,113.80 L257.06,115.19 L259.27,116.60 L261.49,118.02 L263.70,119.46 L265.91,120.91 L268.12,122.37 L270.34,123.85 L272.55,125.35 L274.76,126.86 L276.97,128.37 L279.19,129.92 L281.40,131.49 L283.61,133.10 L285.82,134.75 L288.04,136.43 L290.25,138.15 L292.46,139.90 L294.67,141.70 L296.89,143.55 L299.10,145.44" stroke="#7221bc" stroke-width="1.45"/>
<path d="M299.10,145.44 L299.62,146.62 L300.15,147.78 L300.67,148.95 L301.20,150.12 L301.72,151.29 L302.25,152.44 L302.77,153.58 L303.30,154.71 L303.82,155.83 L304.35,156.94 L304.87,158.04 L305.40,159.13 L305.92,160.20 L306.44,161.27 L306.97,162.32 L307.49,163.36 L308.02,164.40 L308.54,165.42 L309.07,166.44 L309.59,167.44 L310.12,168.44 L310.64,169.43 L311.17,170.42 L311.69,171.47 L312.22,172.54 L312.74,173.58 L313.26,174.53 L313.79,175.41 L314.31,176.26 L314.84,177.08 L315.36,177.88 L315.89,178.65 L316.41,179.40 L316.94,180.13 L317.46,180.85 L317.99,181.55 L318.51,182.25 L319.04,182.94 L319.56,183.62 L320.08,184.31 L320.61,185.00 L321.13,185.69 L321.66,186.39 L322.18,187.11 L322.71,187.83 L323.23,188.57 L323.76,189.32 L324.28,190.07 L324.81,190.82 L325.33,191.57 L325.86,192.33 L326.38,193.08 L326.91,193.83 L327.43,194.58 L327.95,195.32 L328.48,196.06 L329.00,196.80 L329.53,197.52 L330.05,198.24 L330.58,198.96 L331.10,199.66 L331.63,200.35 L332.15,201.03 L332.68,201.70 L333.20,202.35 L333.73,202.99 L334.25,203.62 L334.77,204.23 L335.30,204.82 L335.82,205.39 L336.35,205.94 L336.87,206.48 L337.40,207.00 L337.92,207.52 L338.45,208.03 L338.97,208.55 L339.50,209.07 L340.02,209.60 L340.55,210.13 L341.07,210.65 L341.59,211.18 L342.12,211.69 L342.64,212.21 L343.17,212.71 L343.69,213.22 L344.22,213.72 L344.74,214.21 L345.27,214.70 L345.79,215.19 L346.32,215.67 L346.84,216.15 L347.37,216.62 L347.89,217.09 L348.41,217.56 L348.94,218.02 L349.46,218.48 L349.99,218.93 L350.51,219.38 L351.04,219.83 L351.56,220.27 L352.09,220.71 L352.61,221.14 L353.14,221.57 L353.66,222.00 L354.19,222.42 L354.71,222.84 L355.23,223.25 L355.76,223.67 L356.28,224.07 L356.81,224.48 L357.33,224.88 L357.86,225.28 L358.38,225.67 L358.91,226.06 L359.43,226.45 L359.96,226.83 L360.48,227.21 L361.01,227.59 L361.53,227.96 L362.05,228.33 L362.58,228.70 L363.10,229.06 L363.63,229.42 L364.15,229.77 L364.68,230.12 L365.20,230.47 L365.73,230.81 L366.25,231.15 L366.78,231.49 L367.30,231.82 L367.83,232.15 L368.35,232.48 L368.88,232.80 L369.40,233.12 L369.92,233.44 L370.45,233.76 L370.97,234.07 L371.50,234.38 L372.02,234.69 L372.55,234.99 L373.07,235.30 L373.60,235.60 L374.12,235.89 L374.65,236.19 L375.17,236.49 L375.70,236.78 L376.22,237.07 L376.74,237.36 L377.27,237.65 L377.79,237.93 L378.32,238.22 L378.84,238.50 L379.37,238.78 L379.89,239.06 L380.42,239.34 L380.94,239.62 L381.47,239.89 L381.99,240.17 L382.52,240.45 L383.04,240.72 L383.56,241.00 L384.09,241.27 L384.61,241.54 L385.14,241.81 L385.66,242.08 L386.19,242.35 L386.71,242.62 L387.24,242.88 L387.76,243.15 L388.29,243.41 L388.81,243.67 L389.34,243.93 L389.86,244.19 L390.38,244.45 L390.91,244.71 L391.43,244.96 L391.96,245.22 L392.48,245.47 L393.01,245.73 L393.53,245.98 L394.06,246.23 L394.58,246.48 L395.11,246.73 L395.63,246.98 L396.16,247.23 L396.68,247.47 L397.20,247.72 L397.73,247.96 L398.25,248.21 L398.78,248.45 L399.30,248.69 L399.83,248.93 L400.35,249.17 L400.88,249.41 L401.40,249.65 L401.93,249.89 L402.45,250.13 L402.98,250.37 L403.50,250.60" stroke="#7221bc" stroke-width="1.25" stroke-linejoin="miter"/>
<path d="M35.80,15.88 L38.06,16.68 L40.33,17.48 L42.59,18.29 L44.86,19.10 L47.12,19.91 L49.38,20.73 L51.65,21.55 L53.91,22.37 L56.17,23.20 L58.44,24.03 L60.70,24.86 L62.97,25.70 L65.23,26.54 L67.49,27.38 L69.76,28.23 L72.02,29.08 L74.29,29.94 L76.55,30.80 L78.81,31.66 L81.08,32.52 L83.34,33.39 L85.61,34.26 L87.87,35.14 L90.13,36.01 L92.40,36.89 L94.66,37.78 L96.92,38.66 L99.19,39.55 L101.45,40.45 L103.72,41.35 L105.98,42.25 L108.24,43.16 L110.51,44.07 L112.77,44.99 L115.04,45.91 L117.30,46.83 L119.56,47.76 L121.83,48.69 L124.09,49.63 L126.35,50.57 L128.62,51.52 L130.88,52.47 L133.15,53.43 L135.41,54.40 L137.67,55.36 L139.94,56.34 L142.20,57.32 L144.47,58.31 L146.73,59.30 L148.99,60.29 L151.26,61.30 L153.52,62.31 L155.78,63.32 L158.05,64.34 L160.31,65.37 L162.58,66.40 L164.84,67.44 L167.10,68.48 L169.37,69.53 L171.63,70.59 L173.90,71.65 L176.16,72.72 L178.42,73.80 L180.69,74.89 L182.95,75.98 L185.22,77.08 L187.48,78.19 L189.74,79.31 L192.01,80.43 L194.27,81.57 L196.53,82.71 L198.80,83.86 L201.06,85.02 L203.33,86.19 L205.59,87.37 L207.85,88.56 L210.12,89.76 L212.38,90.96 L214.65,92.17 L216.91,93.39 L219.17,94.62 L221.44,95.85 L223.70,97.09 L225.96,98.34 L228.23,99.60 L230.49,100.87 L232.76,102.15 L235.02,103.45 L237.28,104.75 L239.55,106.07 L241.81,107.40 L244.08,108.74 L246.34,110.09 L248.60,111.46 L250.87,112.83 L253.13,114.21 L255.39,115.60 L257.66,117.00 L259.92,118.42 L262.19,119.85 L264.45,121.29 L266.71,122.76 L268.98,124.25 L271.24,125.77 L273.51,127.31 L275.77,128.87 L278.03,130.46 L280.30,132.08 L282.56,133.74 L284.83,135.44 L287.09,137.18 L289.35,138.95 L291.62,140.74 L293.88,142.58 L296.14,144.44 L298.41,146.35 L300.67,148.29 L302.94,150.27 L305.20,152.30" stroke="#670748" stroke-width="1.45"/>
<path d="M305.20,152.30 L305.69,153.45 L306.19,154.59 L306.68,155.71 L307.18,156.82 L307.67,157.91 L308.16,158.99 L308.66,160.05 L309.15,161.10 L309.65,162.14 L310.14,163.16 L310.63,164.18 L311.13,165.18 L311.62,166.17 L312.12,167.16 L312.61,168.14 L313.11,169.10 L313.60,170.07 L314.09,171.08 L314.59,172.14 L315.08,173.18 L315.58,174.16 L316.07,175.05 L316.56,175.90 L317.06,176.73 L317.55,177.52 L318.05,178.29 L318.54,179.04 L319.03,179.77 L319.53,180.48 L320.02,181.18 L320.52,181.87 L321.01,182.55 L321.50,183.22 L322.00,183.90 L322.49,184.57 L322.99,185.25 L323.48,185.93 L323.97,186.63 L324.47,187.34 L324.96,188.06 L325.46,188.79 L325.95,189.53 L326.45,190.27 L326.94,191.01 L327.43,191.76 L327.93,192.50 L328.42,193.25 L328.92,193.99 L329.41,194.73 L329.90,195.46 L330.40,196.19 L330.89,196.92 L331.39,197.64 L331.88,198.35 L332.37,199.05 L332.87,199.75 L333.36,200.43 L333.86,201.10 L334.35,201.76 L334.84,202.40 L335.34,203.03 L335.83,203.65 L336.33,204.25 L336.82,204.83 L337.31,205.37 L337.81,205.88 L338.30,206.36 L338.80,206.83 L339.29,207.31 L339.79,207.81 L340.28,208.35 L340.77,208.88 L341.27,209.41 L341.76,209.93 L342.26,210.45 L342.75,210.97 L343.24,211.48 L343.74,211.99 L344.23,212.49 L344.73,212.99 L345.22,213.49 L345.71,213.98 L346.21,214.46 L346.70,214.95 L347.20,215.43 L347.69,215.90 L348.18,216.37 L348.68,216.84 L349.17,217.30 L349.67,217.76 L350.16,218.21 L350.65,218.67 L351.15,219.11 L351.64,219.56 L352.14,219.99 L352.63,220.43 L353.13,220.86 L353.62,221.29 L354.11,221.71 L354.61,222.13 L355.10,222.55 L355.60,222.96 L356.09,223.37 L356.58,223.77 L357.08,224.17 L357.57,224.57 L358.07,224.96 L358.56,225.35 L359.05,225.73 L359.55,226.12 L360.04,226.49 L360.54,226.87 L361.03,227.24 L361.52,227.60 L362.02,227.96 L362.51,228.32 L363.01,228.68 L363.50,229.03 L363.99,229.37 L364.49,229.71 L364.98,230.05 L365.48,230.39 L365.97,230.72 L366.47,231.04 L366.96,231.37 L367.45,231.69 L367.95,232.01 L368.44,232.32 L368.94,232.63 L369.43,232.94 L369.92,233.25 L370.42,233.55 L370.91,233.85 L371.41,234.15 L371.90,234.44 L372.39,234.74 L372.89,235.03 L373.38,235.32 L373.88,235.60 L374.37,235.89 L374.86,236.17 L375.36,236.45 L375.85,236.73 L376.35,237.00 L376.84,237.28 L377.33,237.55 L377.83,237.82 L378.32,238.09 L378.82,238.36 L379.31,238.63 L379.81,238.90 L380.30,239.16 L380.79,239.43 L381.29,239.69 L381.78,239.96 L382.28,240.22 L382.77,240.48 L383.26,240.74 L383.76,241.00 L384.25,241.26 L384.75,241.52 L385.24,241.77 L385.73,242.03 L386.23,242.28 L386.72,242.54 L387.22,242.79 L387.71,243.04 L388.20,243.29 L388.70,243.54 L389.19,243.78 L389.69,244.03 L390.18,244.27 L390.67,244.52 L391.17,244.76 L391.66,245.00 L392.16,245.24 L392.65,245.48 L393.15,245.72 L393.64,245.95 L394.13,246.19 L394.63,246.43 L395.12,246.66 L395.62,246.89 L396.11,247.12 L396.60,247.36 L397.10,247.59 L397.59,247.82 L398.09,248.05 L398.58,248.27 L399.07,248.50 L399.57,248.73 L400.06,248.95 L400.56,249.18 L401.05,249.40 L401.54,249.63 L402.04,249.85 L402.53,250.07 L403.03,250.30 L403.52,250.52" stroke="#670748" stroke-width="1.25" stroke-linejoin="miter"/>
<path d="M35.80,15.88 L37.03,16.31 L38.25,16.75 L39.48,17.18 L40.70,17.62 L41.93,18.05 L43.16,18.49 L44.38,18.93 L45.61,19.37 L46.83,19.81 L48.06,20.25 L49.29,20.70 L50.51,21.14 L51.74,21.58 L52.96,22.03 L54.19,22.48 L55.42,22.92 L56.64,23.37 L57.87,23.82 L59.09,24.27 L60.32,24.72 L61.55,25.18 L62.77,25.63 L64.00,26.08 L65.22,26.54 L66.45,26.99 L67.68,27.45 L68.90,27.91 L70.13,28.37 L71.35,28.83 L72.58,29.29 L73.81,29.76 L75.03,30.22 L76.26,30.69 L77.48,31.15 L78.71,31.62 L79.94,32.09 L81.16,32.56 L82.39,33.03 L83.61,33.50 L84.84,33.97 L86.07,34.45 L87.29,34.92 L88.52,35.40 L89.74,35.88 L90.97,36.36 L92.20,36.84 L93.42,37.32 L94.65,37.80 L95.87,38.28 L97.10,38.77 L98.33,39.26 L99.55,39.74 L100.78,40.23 L102.00,40.72 L103.23,41.22 L104.46,41.71 L105.68,42.20 L106.91,42.70 L108.13,43.20 L109.36,43.69 L110.59,44.19 L111.81,44.70 L113.04,45.20 L114.26,45.70 L115.49,46.21 L116.72,46.71 L117.94,47.22 L119.17,47.73 L120.39,48.24 L121.62,48.76 L122.85,49.27 L124.07,49.79 L125.30,50.30 L126.52,50.82 L127.75,51.34 L128.98,51.86 L130.20,52.39 L131.43,52.91 L132.65,53.44 L133.88,53.97 L135.11,54.50 L136.33,55.03 L137.56,55.56 L138.78,56.10 L140.01,56.63 L141.24,57.17 L142.46,57.71 L143.69,58.25 L144.91,58.79 L146.14,59.34 L147.37,59.89 L148.59,60.43 L149.82,60.98 L151.04,61.54 L152.27,62.09 L153.50,62.65 L154.72,63.20 L155.95,63.76 L157.17,64.32 L158.40,64.89 L159.63,65.45 L160.85,66.02 L162.08,66.59 L163.30,67.16 L164.53,67.73 L165.76,68.31 L166.98,68.89 L168.21,69.47 L169.43,70.05 L170.66,70.63 L171.89,71.22 L173.11,71.80 L174.34,72.39 L175.56,72.99 L176.79,73.58 L178.02,74.18 L179.24,74.78 L180.47,75.38 L181.69,75.98 L182.92,76.59 L184.15,77.20 L185.37,77.81 L186.60,78.42 L187.82,79.03 L189.05,79.65 L190.28,80.27 L191.50,80.90 L192.73,81.52 L193.95,82.15 L195.18,82.78 L196.41,83.41 L197.63,84.05 L198.86,84.69 L200.08,85.33 L201.31,85.97 L202.54,86.62 L203.76,87.27 L204.99,87.92 L206.21,88.58 L207.44,89.24 L208.67,89.90 L209.89,90.56 L211.12,91.23 L212.34,91.90 L213.57,92.57 L214.80,93.25 L216.02,93.93 L217.25,94.61 L218.47,95.30 L219.70,95.99 L220.93,96.68 L222.15,97.38 L223.38,98.08 L224.60,98.78 L225.83,99.49 L227.06,100.20 L228.28,100.91 L229.51,101.63 L230.73,102.35 L231.96,103.08 L233.19,103.81 L234.41,104.54 L235.64,105.28 L236.86,106.02 L238.09,106.76 L239.32,107.51 L240.54,108.27 L241.77,109.03 L242.99,109.79 L244.22,110.56 L245.45,111.33 L246.67,112.10 L247.90,112.88 L249.12,113.67 L250.35,114.46 L251.58,115.26 L252.80,116.06 L254.03,116.86 L255.25,117.67 L256.48,118.49 L257.71,119.31 L258.93,120.14 L260.16,120.97 L261.38,121.81 L262.61,122.65 L263.84,123.51 L265.06,124.36 L266.29,125.23 L267.51,126.09 L268.74,126.97 L269.97,127.85 L271.19,128.74 L272.42,129.64 L273.64,130.54 L274.87,131.45 L276.10,132.37 L277.32,133.30 L278.55,134.23 L279.77,135.18 L281.00,136.13 L282.23,137.09 L283.45,138.06 L284.68,139.03 L285.90,140.02 L287.13,141.02 L288.36,142.03 L289.58,143.04 L290.81,144.07 L292.03,145.11 L293.26,146.16 L294.49,147.22 L295.71,148.30 L296.94,149.39 L298.16,150.49 L299.39,151.60 L300.62,152.73 L301.84,153.88 L303.07,155.04 L304.29,156.22 L305.52,157.41 L306.75,158.63 L307.97,159.86 L309.20,161.11 L310.42,162.39 L311.65,163.69 L312.88,165.01 L314.10,166.36 L315.33,167.74 L316.55,169.16 L317.78,170.60 L319.01,172.09 L320.23,173.61 L321.46,175.19 L322.68,176.82 L323.91,178.51 L325.14,180.27 L326.36,182.13 L327.59,184.11 L328.81,186.25 L330.04,188.67 L331.27,191.87 L332.49,194.46 L333.72,196.65 L334.94,198.63 L336.17,200.47 L337.40,202.20 L338.62,203.83 L339.85,205.39 L341.07,206.89 L342.30,208.32 L343.53,209.71 L344.75,211.04 L345.98,212.34 L347.20,213.59 L348.43,214.81 L349.66,215.99 L350.88,217.14 L352.11,218.26 L353.33,219.35 L354.56,220.41 L355.79,221.45 L357.01,222.46 L358.24,223.45 L359.46,224.42 L360.69,225.37 L361.92,226.30 L363.14,227.21 L364.37,228.10 L365.59,228.97 L366.82,229.82 L368.05,230.66 L369.27,231.48 L370.50,232.29 L371.72,233.08 L372.95,233.86 L374.18,234.62 L375.40,235.37 L376.63,236.10 L377.85,236.83 L379.08,237.54 L380.31,238.24 L381.53,238.92 L382.76,239.60 L383.98,240.26 L385.21,240.92 L386.44,241.56 L387.66,242.19 L388.89,242.81 L390.11,243.42 L391.34,244.03 L392.57,244.62 L393.79,245.20 L395.02,245.78 L396.24,246.35 L397.47,246.90 L398.70,247.45 L399.92,248.00 L401.15,248.53 L402.37,249.06 L403.60,249.57" stroke="#000" stroke-width="2.0"/>
</g>
<rect x="35.9" y="1.9" width="367.95000000000005" height="257.1" fill="none" stroke="#000" stroke-width="1.9"/>
<path d="M48.06,259.0 v-3.8 M48.06,1.9 v3.8 M60.32,259.0 v-3.8 M60.32,1.9 v3.8 M72.58,259.0 v-3.8 M72.58,1.9 v3.8 M84.84,259.0 v-3.8 M84.84,1.9 v3.8 M97.10,259.0 v-3.8 M97.10,1.9 v3.8 M109.36,259.0 v-3.8 M109.36,1.9 v3.8 M121.62,259.0 v-3.8 M121.62,1.9 v3.8 M133.88,259.0 v-3.8 M133.88,1.9 v3.8 M146.14,259.0 v-3.8 M146.14,1.9 v3.8 M158.40,259.0 v-6.6 M158.40,1.9 v6.6 M170.66,259.0 v-3.8 M170.66,1.9 v3.8 M182.92,259.0 v-3.8 M182.92,1.9 v3.8 M195.18,259.0 v-3.8 M195.18,1.9 v3.8 M207.44,259.0 v-3.8 M207.44,1.9 v3.8 M219.70,259.0 v-3.8 M219.70,1.9 v3.8 M231.96,259.0 v-3.8 M231.96,1.9 v3.8 M244.22,259.0 v-3.8 M244.22,1.9 v3.8 M256.48,259.0 v-3.8 M256.48,1.9 v3.8 M268.74,259.0 v-3.8 M268.74,1.9 v3.8 M281.00,259.0 v-6.6 M281.00,1.9 v6.6 M293.26,259.0 v-3.8 M293.26,1.9 v3.8 M305.52,259.0 v-3.8 M305.52,1.9 v3.8 M317.78,259.0 v-3.8 M317.78,1.9 v3.8 M330.04,259.0 v-3.8 M330.04,1.9 v3.8 M342.30,259.0 v-3.8 M342.30,1.9 v3.8 M354.56,259.0 v-3.8 M354.56,1.9 v3.8 M366.82,259.0 v-3.8 M366.82,1.9 v3.8 M379.08,259.0 v-3.8 M379.08,1.9 v3.8 M391.34,259.0 v-3.8 M391.34,1.9 v3.8 M35.9,10.87 h7.6 M403.85,10.87 h-7.6 M35.9,28.61 h4 M403.85,28.61 h-4 M35.9,46.35 h4 M403.85,46.35 h-4 M35.9,64.09 h4 M403.85,64.09 h-4 M35.9,81.83 h7.6 M403.85,81.83 h-7.6 M35.9,99.57 h4 M403.85,99.57 h-4 M35.9,117.31 h4 M403.85,117.31 h-4 M35.9,135.05 h4 M403.85,135.05 h-4 M35.9,152.79 h7.6 M403.85,152.79 h-7.6 M35.9,170.53 h4 M403.85,170.53 h-4 M35.9,188.27 h4 M403.85,188.27 h-4 M35.9,206.01 h4 M403.85,206.01 h-4 M35.9,223.75 h7.6 M403.85,223.75 h-7.6 M35.9,241.49 h4 M403.85,241.49 h-4" stroke="#000" stroke-width="1.8" fill="none"/>
<path d="M316,18.10 H335.1" stroke="#ff0000" stroke-width="1.5" stroke-dasharray="6 3" fill="none"/>
<path d="M316,29.90 H335.1" stroke="#00ff00" stroke-width="1.5" fill="none"/>
<path d="M316,42.70 H335.1" stroke="#008b00" stroke-width="1.5" fill="none"/>
<path d="M316,55.80 H335.1" stroke="#0000ff" stroke-width="1.5" fill="none"/>
<path d="M316,68.60 H335.1" stroke="#9400d3" stroke-width="1.5" fill="none"/>
<path d="M316,81.90 H335.1" stroke="#7221bc" stroke-width="1.5" fill="none"/>
<path d="M316,94.55 H335.1" stroke="#670748" stroke-width="1.5" fill="none"/>
<path d="M316,106.70 H335.1" stroke="#000000" stroke-width="2.0" fill="none"/>
<g font-family="Liberation Serif, serif" font-weight="bold" fill="#000" stroke="#000" stroke-width="0.25">
<text transform="translate(342.3,21.5) rotate(-0.05) scale(1,1.11)" font-size="10.3" stroke-width="0.15">BP</text>
<text transform="translate(342.3,32.9) rotate(-0.05) scale(1,1.11)" font-size="10.3" stroke-width="0.15">rgBP (n=2)</text>
<text transform="translate(342.3,45.7) rotate(-0.05) scale(1,1.11)" font-size="10.3" stroke-width="0.15">rgBP (n=3)</text>
<text transform="translate(342.3,58.8) rotate(-0.05) scale(1,1.11)" font-size="10.3" stroke-width="0.15">rgBP (n=4)</text>
<text transform="translate(342.3,71.5) rotate(-0.05) scale(1,1.11)" font-size="10.3" stroke-width="0.15">rgBP (n=5)</text>
<text transform="translate(342.3,84.8) rotate(-0.05) scale(1,1.11)" font-size="10.3" stroke-width="0.15">rgBP (n=7)</text>
<text transform="translate(342.3,97.7) rotate(-0.05) scale(1,1.11)" font-size="10.3" stroke-width="0.15">rgBP (n=9)</text>
<text transform="translate(342.3,110.0) rotate(-0.05) scale(1,1.11)" font-size="10.3" stroke-width="0.15">Exact</text>
<text transform="translate(32.6,14.52) rotate(-0.05) scale(1,1.10)" font-size="9.7" text-anchor="end" stroke-width="0.15">-0.4</text>
<text transform="translate(32.6,85.48) rotate(-0.05) scale(1,1.10)" font-size="9.7" text-anchor="end" stroke-width="0.15">-0.8</text>
<text transform="translate(32.6,156.44) rotate(-0.05) scale(1,1.10)" font-size="9.7" text-anchor="end" stroke-width="0.15">-1.2</text>
<text transform="translate(32.6,227.40) rotate(-0.05) scale(1,1.10)" font-size="9.7" text-anchor="end" stroke-width="0.15">-1.6</text>
<text transform="translate(36.30,270.05) rotate(-0.05) scale(1,1.05)" font-size="9.9" text-anchor="middle" stroke-width="0.15">0.2</text>
<text transform="translate(158.90,270.05) rotate(-0.05) scale(1,1.05)" font-size="9.9" text-anchor="middle" stroke-width="0.15">0.3</text>
<text transform="translate(281.50,270.05) rotate(-0.05) scale(1,1.05)" font-size="9.9" text-anchor="middle" stroke-width="0.15">0.4</text>
<text transform="translate(404.10,270.05) rotate(-0.05) scale(1,1.05)" font-size="9.9" text-anchor="middle" stroke-width="0.15">0.5</text>
<text id="xt" transform="translate(161.6,282.6) rotate(-0.04) scale(1.002,1.05)" font-size="13" stroke-width="0.18">Inverse Temperature</text>
<text id="yt" transform="translate(9.75,172.4) rotate(-89.95) scale(1.066,1.06)" font-size="12" stroke-width="0.18">Energy Density</text>
</g>
</svg>
</div></body></html>
